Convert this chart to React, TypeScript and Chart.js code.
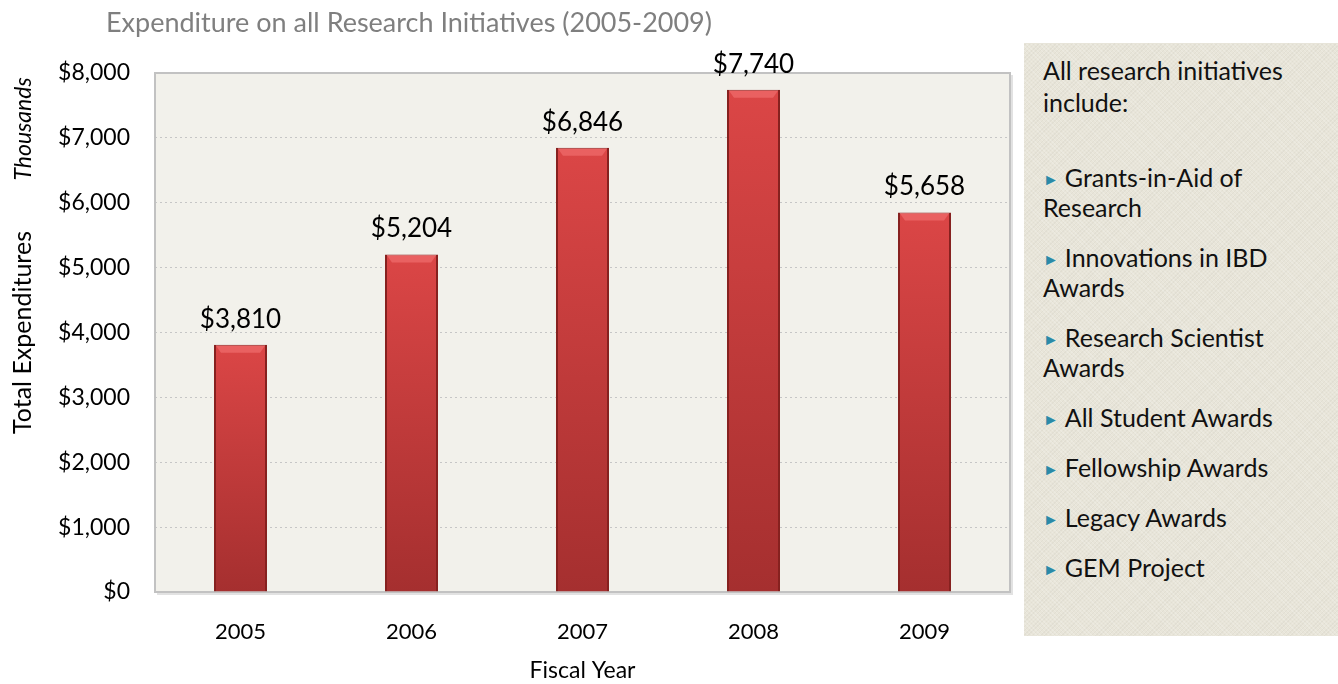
import React, { useEffect, useRef } from "react";
import { Chart, registerables } from "chart.js";

Chart.register(...registerables);

const chartTitle = "Expenditure on all Research Initiatives (2005-2009)";
const unitLabel = "Thousands";
const yAxisTitle = "Total Expenditures";
const xAxisTitle = "Fiscal Year";
const years = ["2005", "2006", "2007", "2008", "2009"];
const barHeights = [3810, 5204, 6846, 7740, 5850];
const valueLabels = ["$3,810", "$5,204", "$6,846", "$7,740", "$5,658"];
const yMin = 0;
const yMax = 8000;
const yStep = 1000;
const panelHeading = ["All research initiatives", "include:"];
const panelItems = [
  ["Grants-in-Aid of", "Research"],
  ["Innovations in IBD", "Awards"],
  ["Research Scientist", "Awards"],
  ["All Student Awards"],
  ["Fellowship Awards"],
  ["Legacy Awards"],
  ["GEM Project"],
];

const FONT = "Lato, 'Noto Sans', sans-serif";

const decorPlugin = {
  id: "decor",
  beforeDraw(chart: any) {
    const { ctx, chartArea: a } = chart;
    ctx.save();
    ctx.fillStyle = "#f2f1eb";
    ctx.fillRect(a.left, a.top, a.right - a.left, a.bottom - a.top);
    ctx.restore();
  },
  beforeDatasetsDraw(chart: any) {
    const { ctx, chartArea: a } = chart;
    ctx.save();
    ctx.strokeStyle = "#e2e2e2";
    ctx.lineWidth = 2;
    ctx.beginPath();
    ctx.moveTo(a.right + 2, a.top + 2);
    ctx.lineTo(a.right + 2, a.bottom + 2);
    ctx.lineTo(a.left + 2, a.bottom + 2);
    ctx.stroke();
    ctx.strokeStyle = "#c2c2c2";
    ctx.lineWidth = 2;
    ctx.strokeRect(a.left, a.top, a.right - a.left, a.bottom - a.top);
    ctx.restore();
  },
  afterDatasetsDraw(chart: any) {
    const { ctx } = chart;
    const meta = chart.getDatasetMeta(0);
    ctx.save();
    meta.data.forEach((bar: any, i: number) => {
      const half = bar.width / 2;
      const l = bar.x - half;
      const r = bar.x + half;
      const t = bar.y;
      ctx.fillStyle = "rgba(245,120,120,0.55)";
      ctx.beginPath();
      ctx.moveTo(l + 2, t + 1);
      ctx.lineTo(r - 2, t + 1);
      ctx.lineTo(r - 7, t + 8);
      ctx.lineTo(l + 7, t + 8);
      ctx.closePath();
      ctx.fill();
      ctx.fillStyle = "#000";
      ctx.font = `26px ${FONT}`;
      ctx.textAlign = "center";
      ctx.textBaseline = "alphabetic";
      ctx.fillText(valueLabels[i], bar.x, t - 17);
    });
    ctx.restore();
  },
  afterDraw(chart: any) {
    const { ctx } = chart;
    ctx.save();
    ctx.fillStyle = "#7f7f7f";
    ctx.font = `27px ${FONT}`;
    ctx.textAlign = "left";
    ctx.textBaseline = "alphabetic";
    ctx.fillText(chartTitle, 106, 32);
    ctx.translate(24, 129);
    ctx.rotate(-Math.PI / 2);
    ctx.fillStyle = "#000";
    ctx.font = `italic 23px ${FONT}`;
    ctx.textAlign = "center";
    ctx.textBaseline = "middle";
    ctx.fillText(unitLabel, 0, 0);
    ctx.restore();
  },
};

function ChartCanvas() {
  const ref = useRef<HTMLCanvasElement | null>(null);
  useEffect(() => {
    if (!ref.current) return;
    const chart = new Chart(ref.current, {
      type: "bar",
      data: {
        labels: years,
        datasets: [
          {
            data: barHeights,
            backgroundColor: (c: any) => {
              const ys = c.chart.scales && c.chart.scales.y;
              if (!ys || c.raw == null) return "#c83c3c";
              const top = ys.getPixelForValue(c.raw);
              const bottom = ys.getPixelForValue(0);
              if (!isFinite(top) || !isFinite(bottom)) return "#c83c3c";
              const g = c.chart.ctx.createLinearGradient(0, top, 0, bottom);
              g.addColorStop(0, "#db4646");
              g.addColorStop(1, "#a52f2f");
              return g;
            },
            borderColor: "#86211f",
            borderWidth: { left: 2, right: 2, top: 1, bottom: 0 },
            borderSkipped: "bottom",
            barPercentage: 0.31,
            categoryPercentage: 1,
          },
        ],
      },
      options: {
        responsive: false,
        animation: false,
        layout: { padding: { top: 73, right: 328, left: 0, bottom: 0 } },
        plugins: {
          legend: { display: false },
          tooltip: { enabled: false },
          title: { display: false },
        },
        scales: {
          x: {
            grid: { display: false, drawTicks: false },
            border: { display: false },
            ticks: { color: "#000", font: { family: FONT, size: 22 }, padding: 27 },
            title: {
              display: true,
              text: xAxisTitle,
              color: "#000",
              font: { family: FONT, size: 23 },
              padding: { top: 0, bottom: 0 },
            },
            afterFit: (s: any) => {
              s.height = 92;
            },
          },
          y: {
            min: yMin,
            max: yMax,
            grid: { color: "#c6c6c6", lineWidth: 1, drawTicks: false },
            border: { display: false, dash: [2, 3] },
            ticks: {
              stepSize: yStep,
              color: "#000",
              font: { family: FONT, size: 23 },
              padding: 25,
              callback: (v: any) => "$" + Number(v).toLocaleString("en-US"),
            },
            title: {
              display: true,
              text: yAxisTitle,
              color: "#000",
              font: { family: FONT, size: 25 },
              padding: { top: 8, bottom: 0 },
            },
            afterFit: (s: any) => {
              s.width = 155;
            },
          },
        },
      },
      plugins: [decorPlugin],
    } as any);
    return () => chart.destroy();
  }, []);
  return <canvas ref={ref} width={1338} height={684} style={{ position: "absolute", left: 0, top: 0 }} />;
}

export default function App() {
  return (
    <div style={{ position: "absolute", left: 0, top: 0, width: 1338, height: 684, background: "#fff", overflow: "hidden" }}>
      <ChartCanvas />
      <div
        style={{
          position: "absolute",
          left: 1024,
          top: 43,
          width: 314,
          height: 593,
          boxSizing: "border-box",
          paddingLeft: 19,
          paddingTop: 11,
          background:
            "repeating-linear-gradient(45deg, rgba(255,255,255,0.18) 0px, rgba(255,255,255,0.18) 1px, transparent 1px, transparent 3px), repeating-linear-gradient(-45deg, rgba(0,0,0,0.03) 0px, rgba(0,0,0,0.03) 1px, transparent 1px, transparent 3px), #e8e5d9",
          fontFamily: FONT,
          fontSize: 25,
          color: "#111",
        }}
      >
        <div style={{ height: 64, lineHeight: "32px", marginBottom: 44 }}>
          {panelHeading.map((l, i) => (
            <div key={i} style={{ whiteSpace: "nowrap", height: 32 }}>{l}</div>
          ))}
        </div>
        {panelItems.map((lines, i) => (
          <div key={i} style={{ marginBottom: 20 }}>
            {lines.map((l, j) => (
              <div key={j} style={{ whiteSpace: "nowrap", height: 30, lineHeight: "30px", overflow: "visible" }}>
                {j === 0 ? (
                  <span style={{ color: "#2a8aa8", fontSize: 16, marginRight: 6, position: "relative", top: -2 }}>►</span>
                ) : null}
                {l}
              </div>
            ))}
          </div>
        ))}
      </div>
    </div>
  );
}
